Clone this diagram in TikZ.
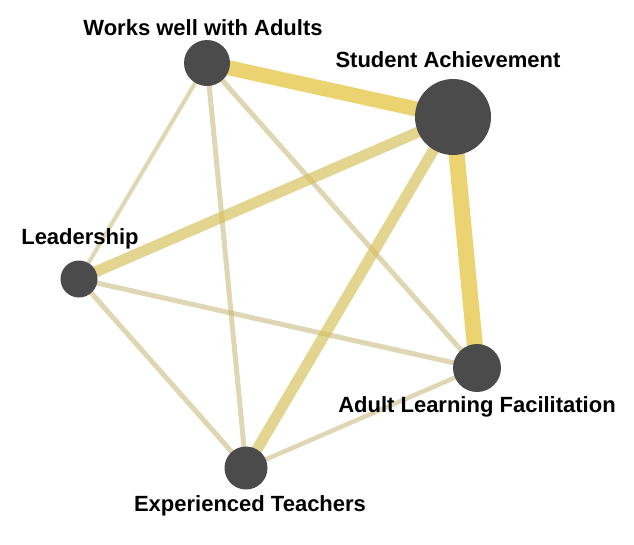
\documentclass[tikz,border=0pt]{standalone}
\usepackage{fontspec}
\setmainfont{Liberation Sans}
\definecolor{nodegray}{HTML}{4B4B4B}
\definecolor{gold}{HTML}{E3C440}
\definecolor{midgold}{HTML}{D4BE55}
\definecolor{tan}{HTML}{BFB06A}
\begin{document}
\begin{tikzpicture}[x=1pt,y=-1pt,
  vert/.style={circle,fill=nodegray,inner sep=0pt},
  lbl/.style={font=\fontsize{22}{26}\selectfont\bfseries,text=black,anchor=base,inner sep=0pt},
  strong/.style={draw=gold,draw opacity=0.75,line width=15pt},
  medium/.style={draw=midgold,draw opacity=0.65,line width=11pt},
  weak/.style={draw=tan,draw opacity=0.5,line width=5pt}]
\useasboundingbox (0,0) rectangle (634,544);
% node positions
\coordinate (w) at (207,63);
\coordinate (s) at (453,117);
\coordinate (l) at (79,279);
\coordinate (a) at (477,368);
\coordinate (e) at (246,468);
% edges
\draw[weak,line width=4pt] (w) -- (l);
\draw[weak] (w) -- (e);
\draw[weak] (w) -- (a);
\draw[weak] (l) -- (a);
\draw[weak] (l) -- (e);
\draw[weak,line width=4.5pt] (a) -- (e);
\draw[medium] (s) -- (l);
\draw[medium] (s) -- (e);
\draw[strong] (w) -- (s);
\draw[strong,line width=16pt] (s) -- (a);
% nodes
\node[vert,minimum size=46pt] (W) at (w) {};
\node[vert,minimum size=76pt] (S) at (s) {};
\node[vert,minimum size=37pt] (L) at (l) {};
\node[vert,minimum size=48pt] (A) at (a) {};
\node[vert,minimum size=43pt] (E) at (e) {};
% labels
\node[lbl] (tW) at (203,35) {Works well with Adults};
\node[lbl] (tS) at (448,67) {Student Achievement};
\node[lbl] (tL) at (80,244) {Leadership};
\node[lbl] (tA) at (477,412) {Adult Learning Facilitation};
\node[lbl] (tE) at (250,511) {Experienced Teachers};
\end{tikzpicture}
\end{document}
